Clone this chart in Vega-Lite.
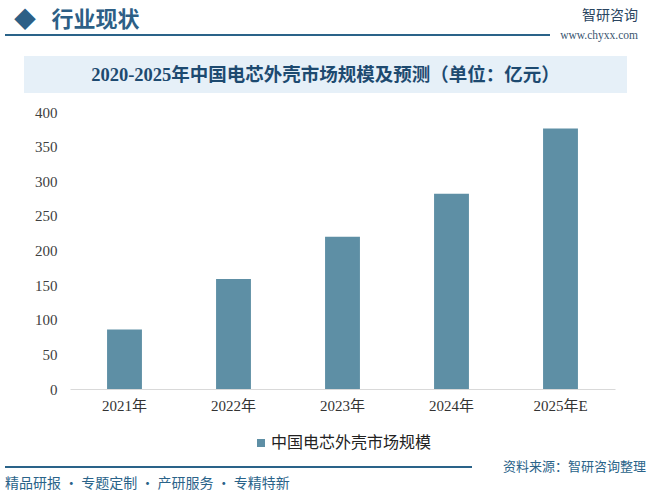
{
  "$schema": "https://vega.github.io/schema/vega-lite/v6.json",
  "background": "white",
  "padding": {"left": 5, "top": 8, "right": 3, "bottom": 2},
  "config": {"view": {"stroke": null}, "legend": {"layout": {"bottom": {"anchor": "middle"}}}},
  "title": {"text": "精品研报 · 专题定制 · 产研服务 · 专精特新", "orient": "bottom", "anchor": "start", "fontSize": 14, "font": "Noto Sans CJK SC", "fontWeight": "normal", "color": "#2a6389", "offset": 3},
  "spacing": 12,
  "vconcat": [
    {
      "spacing": 15,
      "vconcat": [
        {
          "spacing": 10,
          "hconcat": [
            {
              "width": 545, "height": 2,
              "view": {"fill": "#2a6389", "stroke": null},
              "data": {"values": []},
              "mark": "point",
              "title": {"text": "◆\u2002\u2009行业现状", "anchor": "start", "dx": 9, "fontSize": 22, "font": "Noto Sans CJK SC", "fontWeight": "bold", "color": "#2d5f86", "offset": 2}
            },
            {
              "width": 78, "height": 2,
              "data": {"values": []},
              "mark": "point",
              "title": {"text": "智研咨询", "subtitle": "www.chyxx.com", "anchor": "end", "fontSize": 14, "font": "Noto Sans CJK SC", "fontWeight": "normal", "color": "#2a4560", "subtitleFont": "Liberation Serif", "subtitleFontSize": 11.5, "subtitleColor": "#3a5570", "subtitlePadding": 7, "offset": -7}
            }
          ]
        },
        {
          "spacing": 18,
          "hconcat": [
            {"width": 1, "height": 1, "data": {"values": []}, "mark": "point"},
            {
              "width": 603, "height": 37,
              "view": {"fill": "#e6f0f8", "stroke": null},
              "data": {"values": [{"t": "2020-2025年中国电芯外壳市场规模及预测（单位：亿元）"}]},
              "mark": {"type": "text", "fontSize": 18.5, "fontWeight": "bold", "font": "Liberation Serif, Noto Sans CJK SC", "color": "#1d4a70"},
              "encoding": {"text": {"field": "t", "type": "nominal"}}
            }
          ]
        }
      ]
    },
    {
      "spacing": 10,
      "vconcat": [
        {
          "spacing": 14,
          "resolve": {"scale": {"color": "independent"}, "legend": {"color": "independent"}},
          "hconcat": [
            {"width": 1, "height": 1, "data": {"values": []}, "mark": "point"},
            {
              "width": 545, "height": 277,
              "data": {"values": [
                {"year": "2021年", "value": 86, "series": "中国电芯外壳市场规模"},
                {"year": "2022年", "value": 159, "series": "中国电芯外壳市场规模"},
                {"year": "2023年", "value": 220, "series": "中国电芯外壳市场规模"},
                {"year": "2024年", "value": 282, "series": "中国电芯外壳市场规模"},
                {"year": "2025年E", "value": 376, "series": "中国电芯外壳市场规模"}
              ]},
              "mark": {"type": "bar"},
              "encoding": {
                "x": {"field": "year", "type": "nominal", "sort": null,
                      "scale": {"paddingInner": 0.68, "paddingOuter": 0.34},
                      "axis": {"title": null, "labelAngle": 0, "labelFont": "Liberation Serif, Noto Sans CJK SC", "labelFontSize": 15, "labelColor": "#333333", "labelPadding": 9, "ticks": false, "domainColor": "#d9d9d9", "domainWidth": 1}},
                "y": {"field": "value", "type": "quantitative",
                      "scale": {"domain": [0, 400], "nice": false},
                      "axis": {"title": null, "values": [0, 50, 100, 150, 200, 250, 300, 350, 400], "grid": false, "domain": false, "ticks": false, "labelFont": "Liberation Serif", "labelFontSize": 15, "labelColor": "#404040", "labelPadding": 13, "minExtent": 50}},
                "color": {"field": "series", "type": "nominal",
                          "scale": {"range": ["#5e8fa5"]},
                          "legend": {"title": null, "orient": "bottom", "symbolType": "square", "symbolSize": 64, "labelFont": "Noto Sans CJK SC", "labelFontSize": 16, "labelColor": "#222222", "labelOffset": 2, "labelLimit": 0, "offset": 22}}
              }
            }
          ]
        },
        {
          "spacing": 31,
          "hconcat": [
            {"width": 467, "height": 2, "view": {"fill": "#2a6389", "stroke": null}, "data": {"values": []}, "mark": "point"},
            {"width": 1, "height": 1, "data": {"values": []}, "mark": "point",
             "title": {"text": "资料来源：智研咨询整理", "anchor": "start", "fontSize": 13, "font": "Noto Sans CJK SC", "fontWeight": "normal", "color": "#2a6389", "offset": -8}}
          ]
        }
      ]
    }
  ]
}
